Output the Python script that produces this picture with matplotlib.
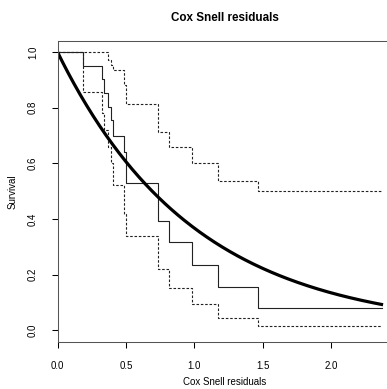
import numpy as np
import matplotlib
matplotlib.use("Agg")
from matplotlib import pyplot as plt

# Kaplan-Meier estimate of the Cox Snell residuals
times = [0.0, 0.185, 0.327, 0.339, 0.373, 0.388, 0.405, 0.485, 0.502,
         0.734, 0.815, 0.983, 1.173, 1.468, 2.37]
surv = [1.0, 0.951, 0.902, 0.852, 0.804, 0.756, 0.700, 0.642, 0.529,
        0.394, 0.317, 0.236, 0.157, 0.081, 0.081]
upper = [1.0, 1.0, 1.0, 1.0, 0.971, 0.955, 0.935, 0.880, 0.812,
         0.714, 0.658, 0.600, 0.538, 0.502, 0.502]
lower = [1.0, 0.857, 0.780, 0.720, 0.660, 0.600, 0.522, 0.420, 0.341,
         0.220, 0.152, 0.095, 0.046, 0.015, 0.015]

# unit exponential reference curve
rate = 1.0
x_max = 2.37

xticks = [0.0, 0.5, 1.0, 1.5, 2.0]
yticks = [0.0, 0.2, 0.4, 0.6, 0.8, 1.0]

plt.rcParams['font.family'] = ['Liberation Sans', 'DejaVu Sans']
plt.rcParams['font.size'] = 7

W, H = 387, 389
fig = plt.figure(figsize=(W / 100, H / 100), dpi=100)
ax = fig.add_axes([57.5 / W, (H - 341.6) / H, (394.5 - 57.5) / W, 300.7 / H])

dash = (0, (2.3, 1.6))
ax.step(times, surv, where='post', color='#222222', lw=0.8)
ax.step(times, upper, where='post', color='#222222', lw=0.8, linestyle=dash)
ax.step(times, lower, where='post', color='#222222', lw=0.8, linestyle=dash)

xs = np.linspace(0, x_max, 300)
ax.plot(xs, np.exp(-rate * xs), color='black', lw=2.3)

ax.set_xlim(0, 2.465)
ax.set_ylim(-0.04, 1.04)
ax.set_xticks(xticks)
ax.set_xticklabels(["%.1f" % t for t in xticks])
ax.set_yticks(yticks)
ax.set_yticklabels(["%.1f" % t for t in yticks], rotation=90, va='center')
ax.tick_params(length=4, width=0.75, color='black')
ax.tick_params(axis='x', pad=10)
ax.tick_params(axis='y', pad=10)
for s in ax.spines.values():
	s.set_linewidth(0.75)
	s.set_color('#555555')

fig.text(225 / W, 1 - 17.7 / H, "Cox Snell residuals", ha='center', va='center',
		fontsize=8.4, fontweight='bold')
fig.text(225 / W, 1 - 381.7 / H, "Cox Snell residuals", ha='center', va='center')
fig.text(13 / W, 1 - 191.5 / H, "Survival", ha='center', va='center', rotation=90)

plt.savefig("out.png", dpi=100)
plt.close()
